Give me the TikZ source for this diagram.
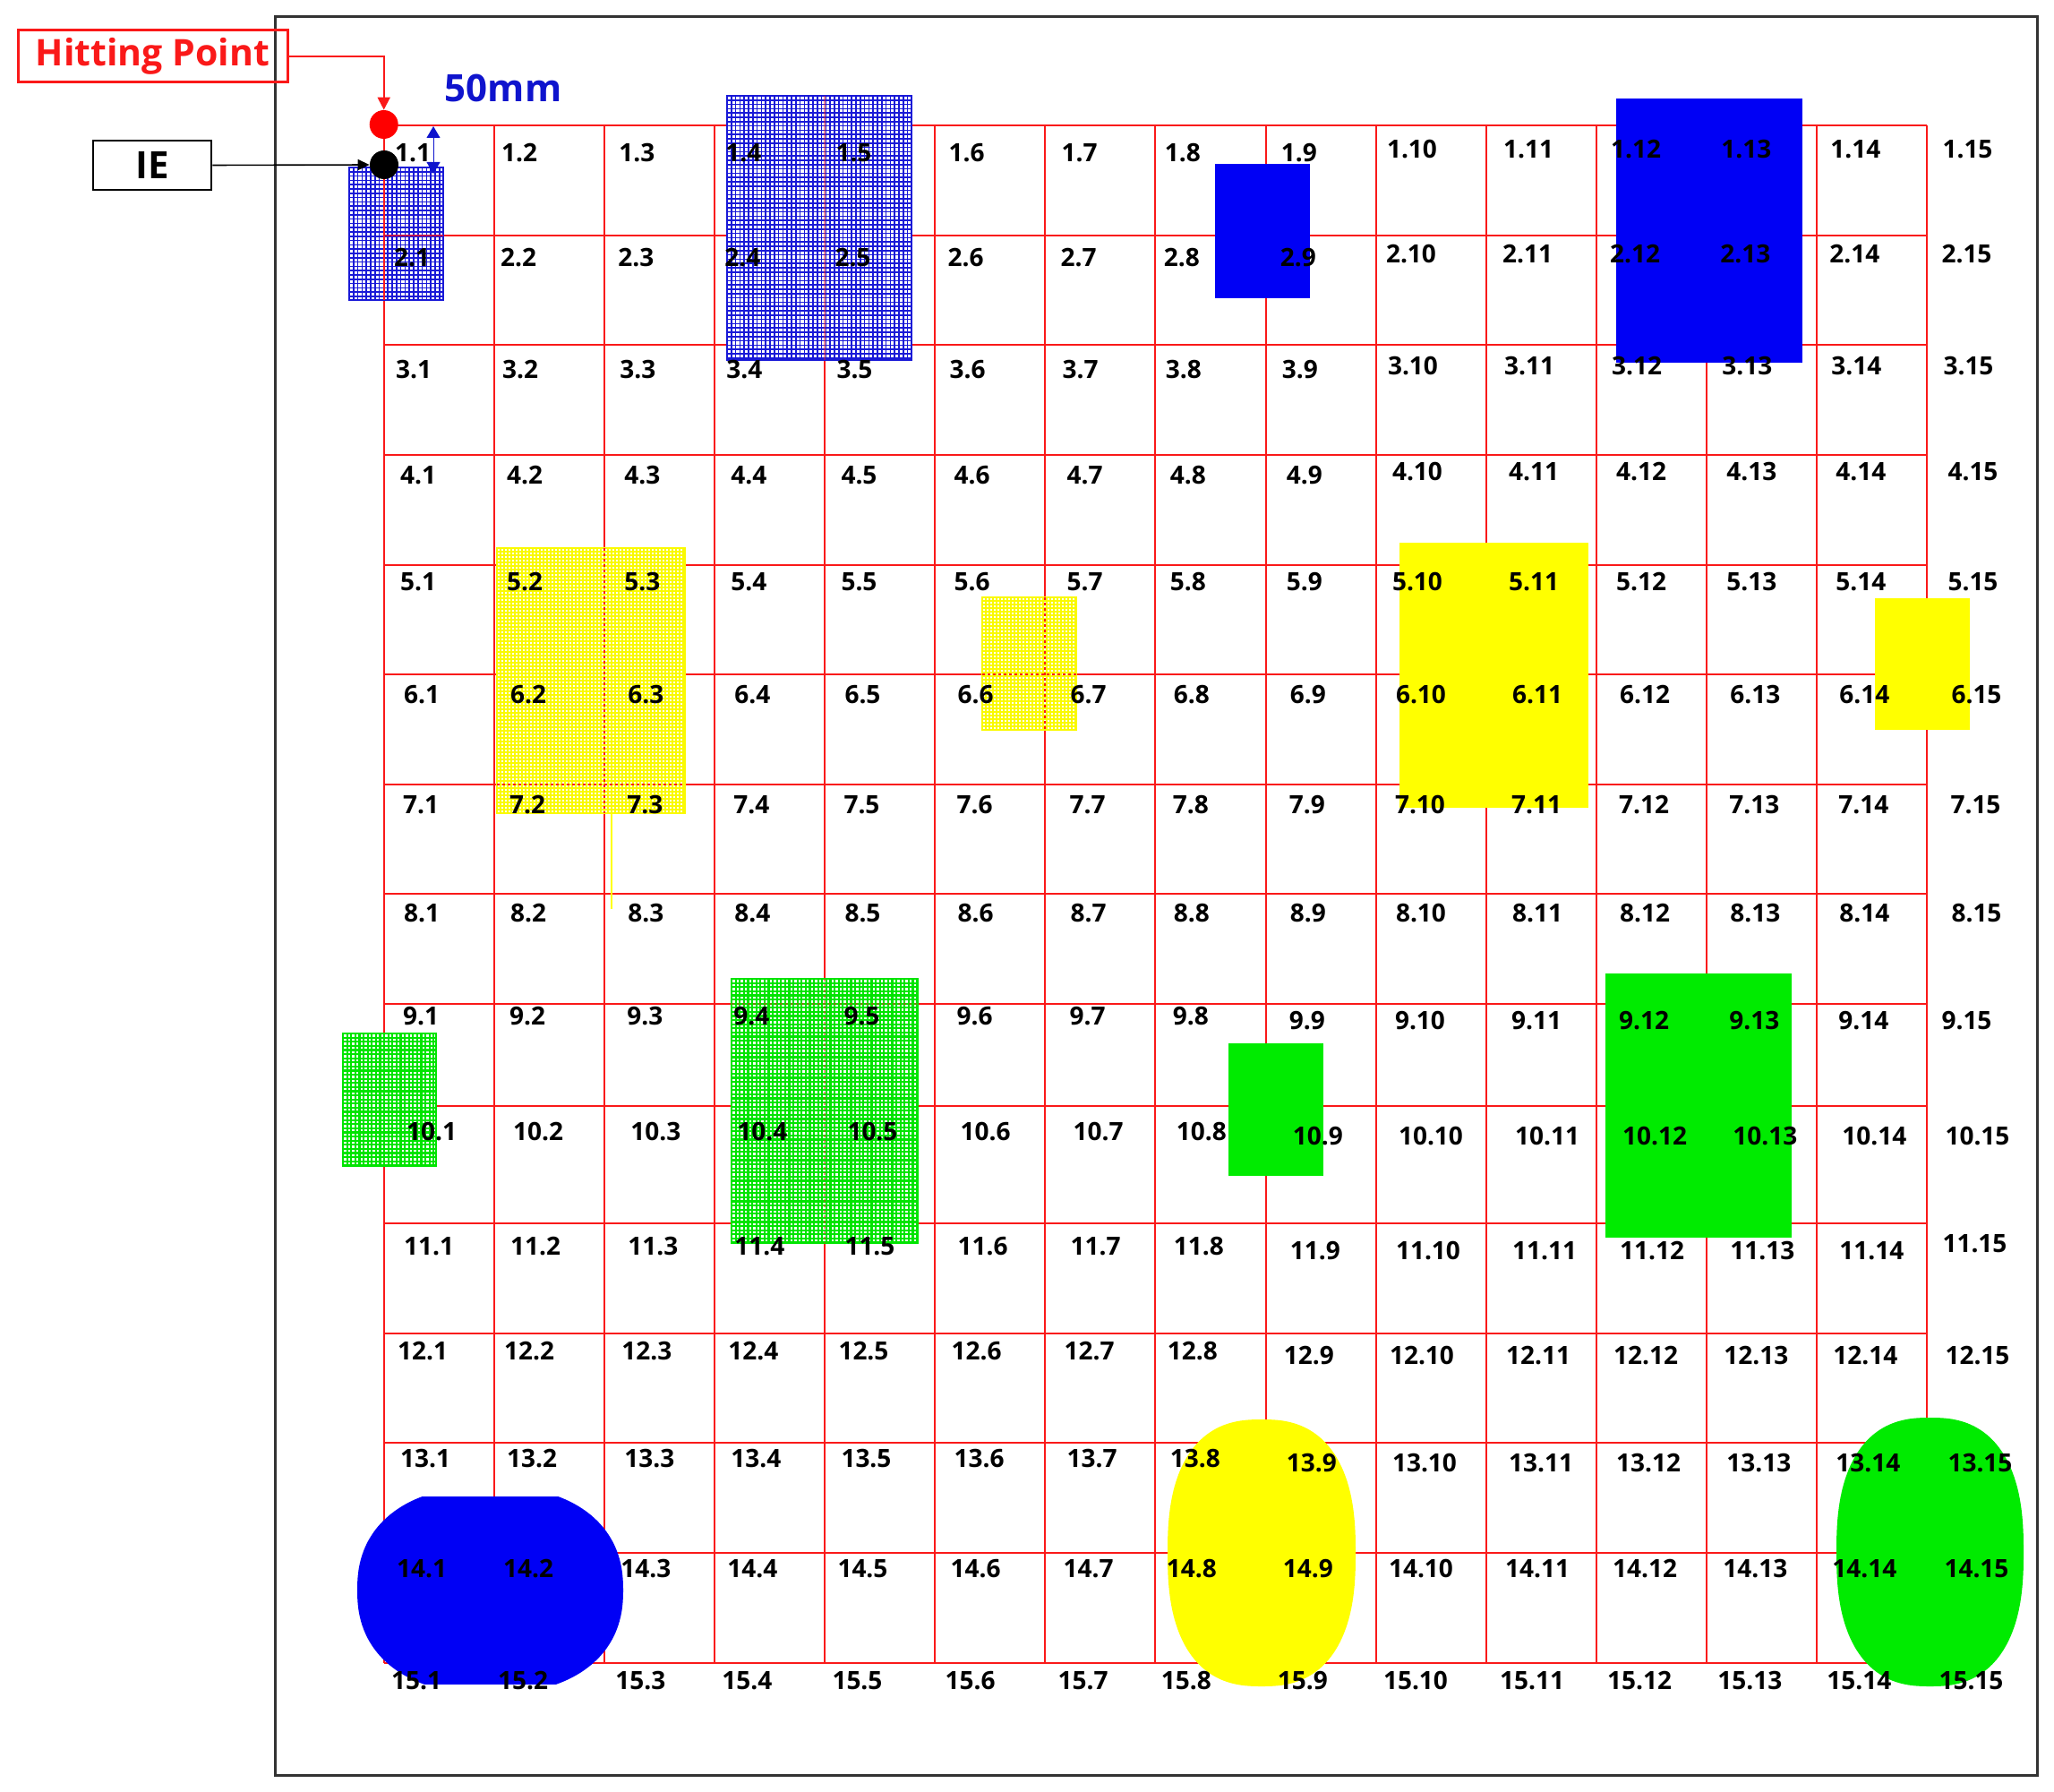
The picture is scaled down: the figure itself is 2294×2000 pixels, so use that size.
\documentclass[tikz,border=0pt]{standalone}
\usepackage{fontspec}
\setmainfont{Open Sans}
\usetikzlibrary{arrows.meta}
\definecolor{gridred}{RGB}{250,25,25}
\definecolor{fillblue}{RGB}{0,0,245}
\definecolor{fillyellow}{RGB}{255,255,0}
\definecolor{fillgreen}{RGB}{0,235,0}
\definecolor{meshblue}{RGB}{25,25,215}
\definecolor{meshyellow}{RGB}{250,250,0}
\definecolor{meshgreen}{RGB}{0,228,0}
\definecolor{dimblue}{RGB}{15,20,205}
\newcommand\meshbox[7]{%
  \fill[white] (#1,#2) rectangle (#3,#4);
  \begin{scope}
    \clip (#1,#2) rectangle (#3,#4);
    \pgfmathtruncatemacro\nmx{(#3-#1)/#5}
    \pgfmathtruncatemacro\nmy{(#4-#2)/#5}
    \foreach \k in {0,...,\nmx} \draw[#6, line width=#7] ({#1+\k*#5},#2) -- ({#1+\k*#5},#4);
    \foreach \k in {0,...,\nmy} \draw[#6, line width=#7] (#1,{#2+\k*#5}) -- (#3,{#2+\k*#5});
  \end{scope}
  \draw[#6, line width=#7] (#1,#2) rectangle (#3,#4);
}
\newcommand\superblob[6]{%
  \fill[#6] plot[domain=0.5:89.5,samples=45] ({#1+#3*pow(cos(\x),#5)},{#2+#4*pow(sin(\x),#5)})
   -- plot[domain=89.5:0.5,samples=45] ({#1-#3*pow(cos(\x),#5)},{#2+#4*pow(sin(\x),#5)})
   -- plot[domain=0.5:89.5,samples=45] ({#1-#3*pow(cos(\x),#5)},{#2-#4*pow(sin(\x),#5)})
   -- plot[domain=89.5:0.5,samples=45] ({#1+#3*pow(cos(\x),#5)},{#2-#4*pow(sin(\x),#5)}) -- cycle;
}
\begin{document}
\begin{tikzpicture}[x=0.5pt,y=-0.5pt,
  gridline/.style={gridred, line width=1pt},
  overline/.style={gridred, line width=1pt, dash pattern=on 1.5pt off 1.5pt},
  lbl/.style={inner sep=0pt, anchor=west, text=black, font=\bfseries\fontsize{14}{15}\selectfont},
  callout/.style={line width=1.5pt, inner sep=0pt, font=\bfseries\fontsize{20.5}{21}\selectfont}]
\useasboundingbox (0,0) rectangle (2294,2000);
\fill[white] (0,0) rectangle (2294,2000);
% frame
\draw[line width=1.5pt, black!80] (307,19) rectangle (2275,1982);
% grid
\foreach \ci in {0,...,14}
  \draw[gridline] ({428.7+\ci*123.1},140) -- ({428.7+\ci*123.1},1856.6);
\foreach \yy in {140,262.6,385.3,507.9,630.5,753,875.7,998.3,1121,1235,1366,1488.8,1611.4,1734,1856.6}
  \draw[gridline] (428.7,\yy) -- (2152.1,\yy);
% meshes
\meshbox{390}{187}{495}{335}{4.8}{meshblue}{0.85pt}
\meshbox{812}{107}{1018}{402}{4.8}{meshblue}{0.85pt}
\meshbox{555}{612}{765}{908}{4}{meshyellow}{1pt}
\meshbox{1097}{667}{1202}{815}{4}{meshyellow}{1pt}
\meshbox{383}{1154}{487}{1302}{4.6}{meshgreen}{1.1pt}
\meshbox{817}{1093}{1025}{1388}{4.6}{meshgreen}{1.1pt}
\draw[fillyellow, line width=0.8pt] (683,908) -- (683,1015);
% solid rectangles
\fill[fillblue] (1357,183) rectangle (1463,333);
\fill[fillblue] (1805,110) rectangle (2013,405);
\fill[fillyellow] (1563,606) rectangle (1774,902);
\fill[fillyellow] (2094,668) rectangle (2200,815);
\fill[fillgreen] (1372,1165) rectangle (1478,1313);
\fill[fillgreen] (1793,1087) rectangle (2001,1382);
% blobs
\begin{scope}
  \clip (380,1671) rectangle (720,1880);
  \superblob{547.5}{1775.5}{148.5}{116}{0.87}{fillblue}
\end{scope}
\superblob{1409}{1734}{105}{149}{0.8}{fillyellow}
\superblob{2155.5}{1733}{104.5}{150}{0.8}{fillgreen}
% grid lines seen through the meshes
\draw[gridline] (428.7,187) -- (428.7,335);
\draw[gridred!75!blue, line width=1pt] (428.7,262.6) -- (495,262.6);
\draw[gridred, line width=1pt, opacity=0.45] (921.1,107) -- (921.1,402);
\draw[overline] (674.9,612) -- (674.9,908);
\draw[overline] (555,875.7) -- (765,875.7);
\draw[overline] (1167.3,667) -- (1167.3,815);
\draw[overline] (1097,753) -- (1202,753);
\draw[overline, opacity=0.45] (921.1,1093) -- (921.1,1388);
\draw[overline, opacity=0.45] (817,1121) -- (1025,1121);
% annotations
\node[callout, draw=gridred, text=gridred, minimum width=150.5pt, minimum height=29pt] (hp) at (170.5,63) {Hitting Point};
\node[callout, draw=black, text=black, line width=1.3pt, minimum width=66pt, minimum height=27.5pt, font=\bfseries\fontsize{21}{22}\selectfont] (ie) at (170,184.5) {IE};
\node[circle, fill=red, minimum size=16pt, inner sep=0pt] (hit) at (428.7,139) {};
\node[circle, fill=black, minimum size=16pt, inner sep=0pt] (bc) at (429,184) {};
\draw[gridred, line width=1pt, -{Triangle[length=7pt,width=7pt]}] (hp.east) -| (hit.north);
\draw[black, line width=0.8pt, -{Triangle[length=6.5pt,width=6pt]}] (ie.east) -- (bc.west);
\coordinate (d1) at (484,141);
\coordinate (d2) at (484,194);
\draw[dimblue, line width=0.5pt, {Triangle[length=6.5pt,width=7.5pt]}-{Triangle[length=6.5pt,width=7.5pt]}] (d1) -- (d2);
\node[inner sep=0pt, text=dimblue, font=\bfseries\fontsize{21}{22}\selectfont] (mm) at (562,98) {50mm};
% cell labels
\foreach \ri/\ly/\dx in {1/171/12, 2/288/11, 3/413/13, 4/531/18, 5/650/18, 6/776/22, 7/899/21, 8/1020/22, 9/1135/21, 10/1264/25, 11/1392/22, 12/1509/15, 13/1629/18, 14/1752/14, 15/1877/8} {
  \foreach \ci/\cdx in {1/0, 2/-4, 3/4, 4/0, 5/0, 6/3, 7/6, 8/-2, 9/5, 10/0, 11/7, 12/4, 13/4, 14/3, 15/5} {
    \pgfmathsetmacro\ddy{(\ri<5)*(\ci>9)*(-4)+(\ri>8)*(\ri<14)*(\ci>8)*5-(\ri==11)*(\ci==15)*8}
    \pgfmathsetmacro\ddx{-(\ri>8)*(\ri<12)*(\ci==15)*10}
    \node[lbl] (l\ri-\ci) at ({428.7+(\ci-1)*123.1+\dx+\cdx+\ddx},{\ly+\ddy}) {\ri.\ci};
  }
}
\end{tikzpicture}
\end{document}
